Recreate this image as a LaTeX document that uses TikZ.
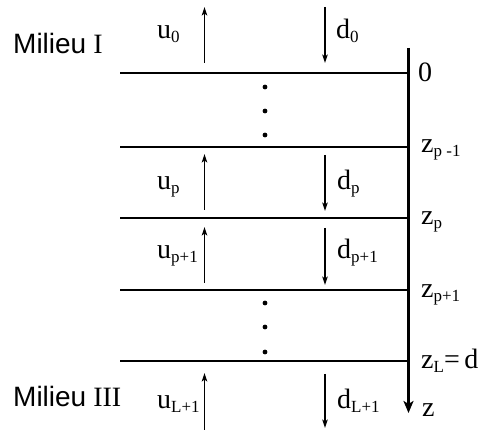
\documentclass[tikz,border=0pt]{standalone}
\usepackage{fontspec}
\setmainfont{Liberation Serif}
\newfontfamily\arialfont{Liberation Sans}
\usetikzlibrary{arrows.meta}
\newcommand{\lsub}[1]{\raisebox{-4pt}{\fontsize{17}{17}\selectfont #1}}
\tikzset{
  layer/.style={line width=2.3pt},
  axisline/.style={line width=2.4pt, -{Stealth[length=12pt,width=10pt,inset=3pt]}},
  wave/.style={line width=1.3pt, -{Stealth[length=8.5pt,width=5.5pt,inset=2pt]}},
  lbl/.style={inner sep=0pt, anchor=base west, font=\fontsize{28}{28}\selectfont},
  dotp/.style={circle, fill=black, inner sep=0pt, minimum size=4.8pt}
}
\begin{document}
\begin{tikzpicture}[x=1pt,y=-1pt]
\useasboundingbox (0,0) rectangle (480,430);
% axis
\coordinate (atop) at (408.5,48);
\coordinate (abot) at (408.5,413);
\draw[axisline] (atop) -- (abot);
% layer lines
\foreach \n/\y in {l0/73,l1/147,l2/218,l3/290,l4/361}{
  \coordinate (\n a) at (120,\y);
  \coordinate (\n b) at (408.5,\y);
  \draw[layer] (\n a) -- (\n b);
}
% wave arrows
\foreach \n/\t/\b in {w0/7/63,w1/154/210,w2/227/283,w3/373/430}{
  \coordinate (\n ut) at (204.5,\t);
  \coordinate (\n ub) at (204.5,\b);
  \draw[wave] (\n ub) -- (\n ut);
}
\foreach \n/\t/\b in {v0/7/63,v1/155/211,v2/228/285,v3/374/428}{
  \coordinate (\n dt) at (325,\t);
  \coordinate (\n db) at (325,\b);
  \draw[wave] (\n dt) -- (\n db);
}
% dots
\foreach \n/\y in {d1/87,d2/111,d3/135,d4/303,d5/327,d6/352}{
  \node[dotp] (\n) at (265,\y) {};
}
% labels
\node[lbl] (mil1) at (13,54) {{\arialfont Milieu} I};
\node[lbl] (mil3) at (13,407) {{\arialfont Milieu} III};
\node[lbl] (u0) at (157,39) {u\lsub{0}};
\node[lbl] (d0) at (336,39) {d\lsub{0}};
\node[lbl] (up) at (157,190) {u\lsub{p}};
\node[lbl] (dp) at (337,190) {d\lsub{p}};
\node[lbl] (up1) at (157,259) {u\lsub{p+1}};
\node[lbl] (dp1) at (337,259) {d\lsub{p+1}};
\node[lbl] (uL1) at (157,409) {u\lsub{L+1}};
\node[lbl] (dL1) at (337,409) {d\lsub{L+1}};
\node[lbl] (z0) at (418,82) {0};
\node[lbl] (zpm) at (421,153) {z\lsub{p -1}};
\node[lbl] (zp) at (421,225) {z\lsub{p}};
\node[lbl] (zpp) at (421,298) {z\lsub{p+1}};
\node[lbl] (zL) at (421,369) {z\lsub{L}=\,d};
\node[lbl] (zz) at (422,417) {z};
\end{tikzpicture}
\end{document}
